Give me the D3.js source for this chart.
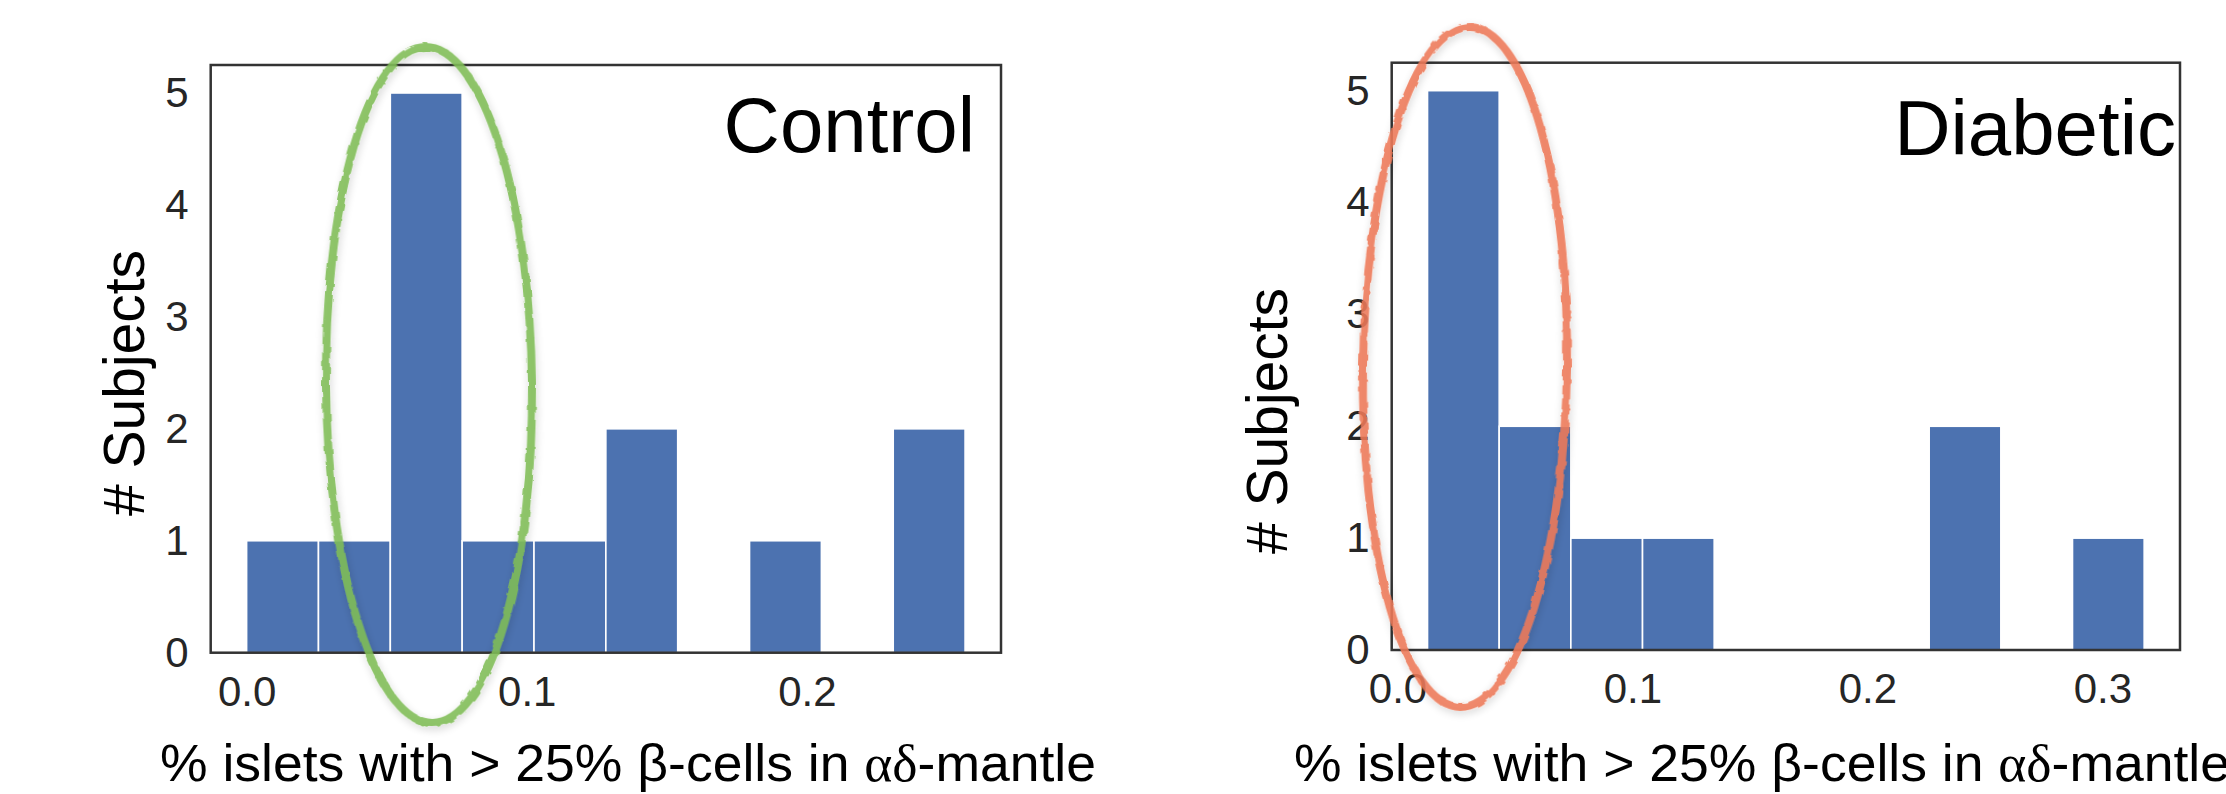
<!DOCTYPE html>
<html>
<head>
<meta charset="utf-8">
<script src="https://cdn.jsdelivr.net/npm/d3@7"></script>
<style>
  html, body { margin: 0; padding: 0; background: #fff; }
  svg { display: block; }
  text { font-family: "Liberation Sans", Arial, Helvetica, sans-serif; }
</style>
</head>
<body>
<svg id="draw-here"></svg>
<script>
// histogram counts, 10 bins each
const controlCounts = [1, 1, 5, 1, 1, 2, 0, 1, 0, 2];
const controlRange = [0, 0.2565];
const diabeticCounts = [5, 2, 1, 1, 0, 0, 0, 2, 0, 1];
const diabeticRange = [0.0128, 0.3178];

const controlTicks = [0, 0.1, 0.2];
const diabeticTicks = [0, 0.1, 0.2, 0.3];
const countTicks = [0, 1, 2, 3, 4, 5];

const groupNames = ["Control", "Diabetic"];
const xLabel = ["% islets with > 25% \u03B2-cells in ", "\u03B1\u03B4", "-mantle"];
const yLabel = "# Subjects";

const W = 2226, H = 794;
const barColor = "#4C72B0";

let svg = d3.select('#draw-here')
  .attr('width', W)
  .attr('height', H);

let defs = svg.append('defs');
let f = defs.append('filter').attr('id', 'chalk')
  .attr('x', '-20%').attr('y', '-20%').attr('width', '140%').attr('height', '140%');
f.append('feTurbulence').attr('type', 'fractalNoise').attr('baseFrequency', 0.09)
  .attr('numOctaves', 2).attr('seed', 3).attr('result', 'noise');
f.append('feDisplacementMap').attr('in', 'SourceGraphic').attr('in2', 'noise')
  .attr('scale', 4).attr('result', 'rough');
f.append('feGaussianBlur').attr('in', 'SourceAlpha').attr('stdDeviation', 4).attr('result', 'blur');
f.append('feOffset').attr('in', 'blur').attr('dx', 1).attr('dy', 3).attr('result', 'off');
f.append('feComponentTransfer').attr('in', 'off').attr('result', 'shadow')
  .append('feFuncA').attr('type', 'linear').attr('slope', 0.18);
let m = f.append('feMerge');
m.append('feMergeNode').attr('in', 'shadow');
m.append('feMergeNode').attr('in', 'rough');

const panels = [
  { name: groupNames[0], counts: controlCounts, range: controlRange, ticks: controlTicks,
    box: { x0: 210.7, x1: 1001, y0: 65, y1: 652.7 },
    title: { x: 975, y: 152 }, ylab: { x: 144, y: 383 }, xlab: { x: 160, y: 781 },
    ring: { cx: 429, cy: 385, rx: 103, ry: 338, color: "#80bd57", rot: -0.6 } },
  { name: groupNames[1], counts: diabeticCounts, range: diabeticRange, ticks: diabeticTicks,
    box: { x0: 1391.7, x1: 2180, y0: 62.7, y1: 650 },
    title: { x: 2176, y: 155 }, ylab: { x: 1287, y: 421 }, xlab: { x: 1294, y: 781 },
    ring: { cx: 1465, cy: 367, rx: 102, ry: 340, color: "#ee7a58", rot: 0.8 } }
];

panels.forEach((p) => drawPanel(p));

function drawPanel(p) {
  let b = p.box;
  let nb = p.counts.length;
  let lo = p.range[0], hi = p.range[1];
  let pad = (hi - lo) * 0.05;

  let x = d3.scaleLinear().domain([lo - pad, hi + pad]).range([b.x0, b.x1]);
  let y = d3.scaleLinear().domain([0, 5.25]).range([b.y1, b.y0]);

  let bins = p.counts.map((c, i) => ({
    x0: lo + (hi - lo) * i / nb,
    x1: lo + (hi - lo) * (i + 1) / nb,
    n: c
  }));

  let g = svg.append('g');

  g.selectAll('rect.bar')
    .data(bins.filter(d => d.n > 0))
    .enter().append('rect')
    .attr('class', 'bar')
    .attr('x', d => x(d.x0))
    .attr('width', d => x(d.x1) - x(d.x0))
    .attr('y', d => y(d.n))
    .attr('height', d => y(0) - y(d.n))
    .attr('fill', barColor)
    .attr('stroke', '#fff')
    .attr('stroke-width', 1.6);

  g.append('rect')
    .attr('x', b.x0).attr('y', b.y0)
    .attr('width', b.x1 - b.x0).attr('height', b.y1 - b.y0)
    .attr('fill', 'none')
    .attr('stroke', '#333')
    .attr('stroke-width', 2.5);

  let xAxis = g.append('g')
    .attr('transform', 'translate(0,' + b.y1 + ')')
    .call(d3.axisBottom(x).tickValues(p.ticks).tickFormat(d3.format('.1f'))
      .tickSize(0).tickPadding(23));
  let yAxis = g.append('g')
    .attr('transform', 'translate(' + b.x0 + ',0)')
    .call(d3.axisLeft(y).tickValues(countTicks).tickFormat(d3.format('d'))
      .tickSize(0).tickPadding(22));

  [xAxis, yAxis].forEach(a => {
    a.select('.domain').remove();
    a.selectAll('text')
      .attr('font-family', '"Liberation Sans", Arial, sans-serif')
      .attr('font-size', 42)
      .attr('fill', '#262626');
  });

  g.append('text')
    .attr('x', p.title.x).attr('y', p.title.y)
    .attr('text-anchor', 'end')
    .attr('font-size', 78)
    .attr('fill', '#000')
    .text(p.name);

  g.append('text')
    .attr('transform', 'translate(' + p.ylab.x + ',' + p.ylab.y + ') rotate(-90)')
    .attr('text-anchor', 'middle')
    .attr('font-size', 57)
    .attr('fill', '#000')
    .text(yLabel);

  let xl = g.append('text')
    .attr('x', p.xlab.x).attr('y', p.xlab.y)
    .attr('font-size', 52)
    .attr('fill', '#000')
    .attr('textLength', 936)
    .attr('lengthAdjust', 'spacingAndGlyphs');
  xl.append('tspan').text(xLabel[0]);
  xl.append('tspan').attr('font-family', '"Liberation Serif", "DejaVu Serif", serif').text(xLabel[1]);
  xl.append('tspan').text(xLabel[2]);

  // hand drawn ring over the low bins
  let r = p.ring;
  svg.append('ellipse')
    .attr('cx', r.cx).attr('cy', r.cy)
    .attr('rx', r.rx).attr('ry', r.ry)
    .attr('transform', 'rotate(' + r.rot + ',' + r.cx + ',' + r.cy + ')')
    .attr('fill', 'none')
    .attr('stroke', r.color)
    .attr('stroke-width', 8)
    .attr('stroke-opacity', 0.88)
    .attr('filter', 'url(#chalk)');
}
</script>
</body>
</html>
